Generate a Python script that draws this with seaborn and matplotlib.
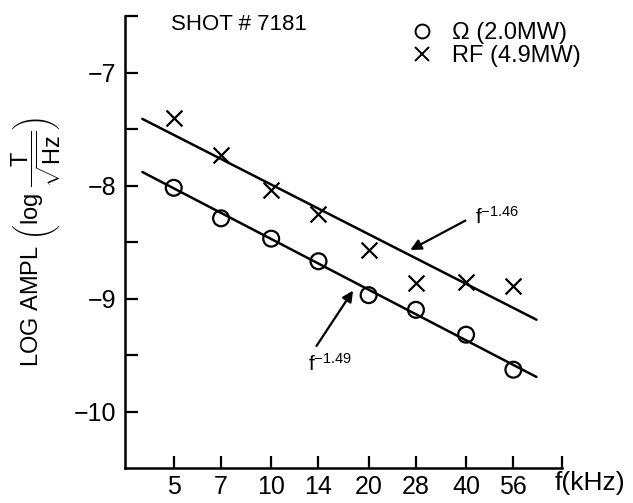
import numpy as np
import pandas as pd
import matplotlib
matplotlib.use("Agg")
import matplotlib.pyplot as plt
import seaborn as sns

# ---- data ----
freq_khz = [5, 7, 10, 14, 20, 28, 40, 56]
tick_labels = ["5", "7", "10", "14", "20", "28", "40", "56"]
ohmic_amp = [-8.02, -8.29, -8.47, -8.67, -8.97, -9.10, -9.32, -9.63]
rf_amp = [-7.40, -7.73, -8.04, -8.25, -8.57, -8.86, -8.85, -8.89]
series_names = ["Ω (2.0MW)", "RF (4.9MW)"]
fit_exponent = [-1.49, -1.46]
fit_intercept = [-6.983, -6.531]
fit_range = [4.0, 66.0]

sns.set_theme(style="ticks")
plt.rcParams["font.family"] = ["Liberation Sans", "DejaVu Sans"]
plt.rcParams["mathtext.fontset"] = "custom"
plt.rcParams["mathtext.rm"] = "Liberation Sans"
plt.rcParams["mathtext.it"] = "Liberation Sans"
plt.rcParams["mathtext.bf"] = "Liberation Sans:bold"
plt.rcParams["text.color"] = "black"
plt.rcParams["axes.labelcolor"] = "black"

df = pd.DataFrame({
    "f": freq_khz * 2,
    "amp": ohmic_amp + rf_amp,
    "series": [series_names[0]] * len(freq_khz) + [series_names[1]] * len(freq_khz),
})

fit_rows = []
for name, ex, a in zip(series_names, fit_exponent, fit_intercept):
    for f in fit_range:
        fit_rows.append({"f": f, "amp": a + ex * np.log10(f), "series": name})
fit_df = pd.DataFrame(fit_rows)

fig = plt.figure(figsize=(6.33, 5.03), dpi=100)
ax = fig.add_axes([0.1975, 0.0696, 0.888 - 0.1975, 0.968 - 0.0696])

sns.lineplot(data=fit_df, x="f", y="amp", units="series", estimator=None,
             color="black", lw=1.8, ax=ax, legend=False)
o = df[df.series == series_names[0]]
r = df[df.series == series_names[1]]
sns.scatterplot(data=o, x="f", y="amp", s=130, marker="o", facecolors="none",
                edgecolor="black", linewidth=1.6, ax=ax, legend=False, zorder=3)
sns.scatterplot(data=r, x="f", y="amp", s=130, marker="x", color="black",
                linewidth=1.6, ax=ax, legend=False, zorder=3)

ax.set_xscale("log")
ax.set_xlim(5 / np.sqrt(2), 56 * np.sqrt(2))
ax.set_ylim(-10.5, -6.5)
ax.set_xticks(freq_khz)
ax.set_xticklabels(tick_labels)
ax.set_xticks([56 * np.sqrt(2)], minor=True)
ax.set_yticks([-10, -9, -8, -7])
ax.set_yticklabels(["\u221210", "\u22129", "\u22128", "\u22127"])
ax.set_yticks([-9.5, -8.5, -7.5, -6.5], minor=True)
ax.tick_params(axis="both", which="both", direction="in", length=9, width=1.6,
               labelsize=18, color="black", labelcolor="black")
ax.tick_params(axis="x", which="major", pad=5)
ax.tick_params(axis="y", which="major", pad=6)
ax.tick_params(axis="x", which="minor", labelbottom=False)
ax.tick_params(axis="y", which="minor", labelleft=False)
for s in ["top", "right"]:
    ax.spines[s].set_visible(False)
for s in ["left", "bottom"]:
    ax.spines[s].set_linewidth(1.8)
    ax.spines[s].set_color("black")

ax.set_xlabel("")
ax.set_ylabel(r"LOG AMPL $\left(\mathrm{log}\ \dfrac{\mathrm{T}}{\sqrt{\mathrm{Hz}}}\right)$",
              fontsize=17, labelpad=8)

ax.text(0.982, -0.034, "f(kHz)", transform=ax.transAxes, fontsize=19,
        ha="left", va="center")
ax.text(0.105, 0.982, "SHOT # 7181", transform=ax.transAxes, fontsize=16,
        ha="left", va="center")

leg_handles = [
    plt.Line2D([], [], marker="o", ls="none", mfc="none", mec="black", ms=10, mew=1.4),
    plt.Line2D([], [], marker="x", ls="none", color="black", ms=10, mew=1.4),
]
ax.legend(leg_handles, series_names, loc="upper left", bbox_to_anchor=(0.63, 1.008),
          frameon=False, fontsize=17, handletextpad=0.8, labelspacing=0.05,
          handlelength=1.0, borderaxespad=0)

# exponent labels and arrows
ax.text(42.5, -8.28, r"f$^{-1.46}$", fontsize=15, ha="left", va="center")
ax.annotate("", xy=(26.9, -8.57), xytext=(39.8, -8.31),
            arrowprops=dict(arrowstyle="-|>", color="black", lw=1.6,
                            shrinkA=0, shrinkB=0, mutation_scale=16))
ax.text(13.0, -9.58, r"f$^{-1.49}$", fontsize=15, ha="left", va="center")
ax.annotate("", xy=(17.9, -8.93), xytext=(13.8, -9.42),
            arrowprops=dict(arrowstyle="-|>", color="black", lw=1.6,
                            shrinkA=0, shrinkB=0, mutation_scale=16))

fig.savefig("out.png", dpi=100)
